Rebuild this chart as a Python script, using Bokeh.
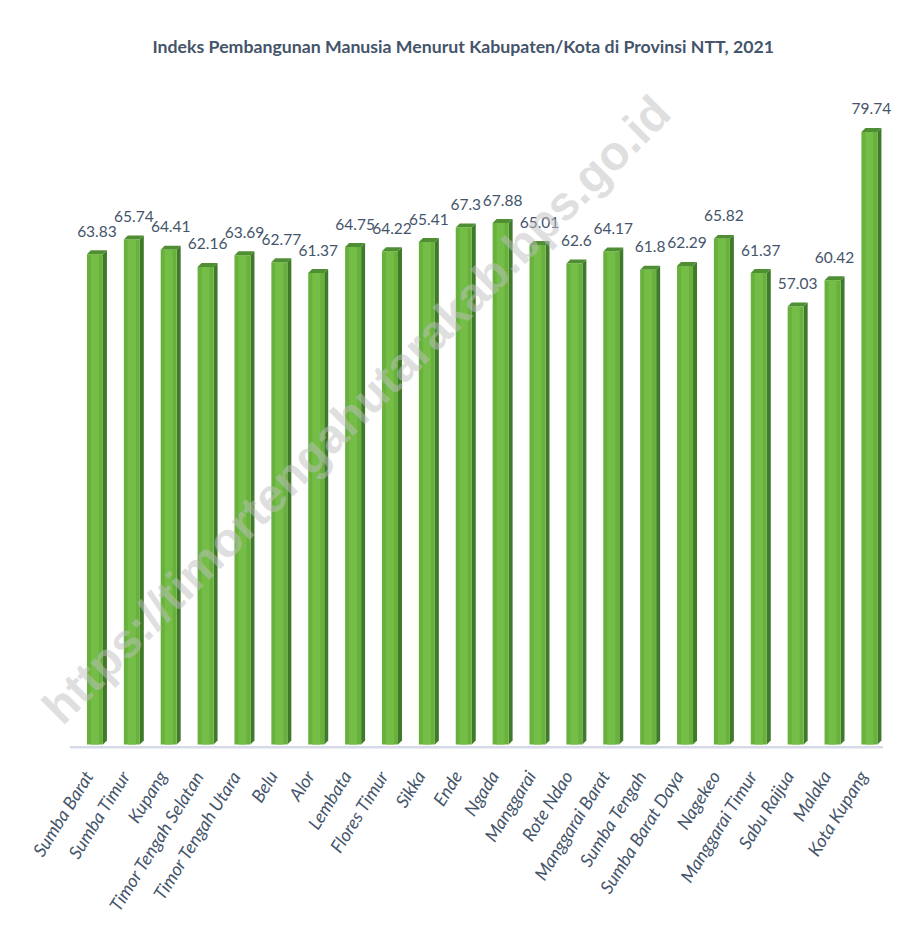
import math
from bokeh.plotting import figure
from bokeh.models import Range1d, ColumnDataSource, Label
from bokeh.core.properties import value
from bokeh.embed import file_html
from bokeh.resources import INLINE

categories = ["Sumba Barat", "Sumba Timur", "Kupang", "Timor Tengah Selatan", "Timor Tengah Utara",
              "Belu", "Alor", "Lembata", "Flores Timur", "Sikka", "Ende", "Ngada", "Manggarai",
              "Rote Ndao", "Manggarai Barat", "Sumba Tengah", "Sumba Barat Daya", "Nagekeo",
              "Manggarai Timur", "Sabu Raijua", "Malaka", "Kota Kupang"]
ipm = [63.83, 65.74, 64.41, 62.16, 63.69, 62.77, 61.37, 64.75, 64.22, 65.41, 67.3, 67.88, 65.01,
       62.6, 64.17, 61.8, 62.29, 65.82, 61.37, 57.03, 60.42, 79.74]
value_labels = ["63.83", "65.74", "64.41", "62.16", "63.69", "62.77", "61.37", "64.75", "64.22", "65.41",
                "67.3", "67.88", "65.01", "62.6", "64.17", "61.8", "62.29", "65.82", "61.37", "57.03",
                "60.42", "79.74"]
title_text = "Indeks Pembangunan Manusia Menurut Kabupaten/Kota di Provinsi NTT, 2021"
watermark = "https://timortengahutarakab.bps.go.id"

TEXT = "#44546A"
FONT = "Lato"

n = len(categories)
xs = list(range(n))
hw = 0.217   # half width of front face (category units)
d = 0.108    # depth in x
dz = 0.52    # depth in y

p = figure(width=905, height=922, output_backend="svg", toolbar_location=None,
           x_range=Range1d(-2.561, 21.978), y_range=Range1d(-23.18, 88.0),
           min_border_left=0, min_border_right=0, min_border_bottom=0, min_border_top=68)
p.background_fill_color = "white"
p.border_fill_color = "white"
p.outline_line_color = None
p.grid.visible = False
p.axis.visible = False

p.title.text = title_text
p.title.align = "left"
p.title.offset = 152
p.title.standoff = 24
p.title.text_color = TEXT
p.title.text_font = FONT
p.title.text_font_size = "17.7px"
p.title.text_font_style = "bold"

# floor
p.segment(x0=[min(xs) - 0.68], y0=[-0.35], x1=[max(xs) + 0.37], y1=[-0.35],
          line_color="#D6DBE7", line_width=2.5)

# side faces
side_xs = [[x + hw, x + hw + d, x + hw + d, x + hw] for x in xs]
side_ys = [[0, dz, v + dz, v] for v in ipm]
p.patches(side_xs, side_ys, fill_color="#3F7A2A", line_color=None)
# top faces
top_xs = [[x - hw, x + hw, x + hw + d, x - hw + d] for x in xs]
top_ys = [[v, v, v + dz, v + dz] for v in ipm]
p.patches(top_xs, top_ys, fill_color="#4F8E33", line_color=None)
# front faces
src = ColumnDataSource(dict(x=xs, top=ipm, lab=value_labels, ly=[v + dz for v in ipm],
                            lx=[x + d / 2 for x in xs], cat=categories, zero=[0] * n))
p.vbar(x="x", top="top", bottom=0, width=2 * hw, source=src, fill_color="#68B13D", line_color=None)
p.vbar(x="x", top="top", bottom=0, width=hw, source=src, fill_color="#74BD47", line_color=None)

# value labels
p.text(x="lx", y="ly", text="lab", source=src, text_align="center", text_baseline="alphabetic",
       y_offset=-19, text_color=TEXT, text_font=value(FONT), text_font_size="15.5px")

# category labels
p.text(x="x", y="zero", text="cat", source=src, angle=math.radians(58), text_align="right",
       text_baseline="top", x_offset=-16, y_offset=22, text_color=TEXT, text_font=value(FONT),
       text_font_style="italic", text_font_size="18px")

wm = Label(x=7.09, y=43.6, text=watermark, angle=math.radians(45), text_align="center",
           text_baseline="middle", text_font="Liberation Sans", text_font_style="bold",
           text_font_size="48px", text_color="#BFBFBF", text_alpha=0.5)
p.add_layout(wm)

open("out.html", "w").write(file_html(p, INLINE))
